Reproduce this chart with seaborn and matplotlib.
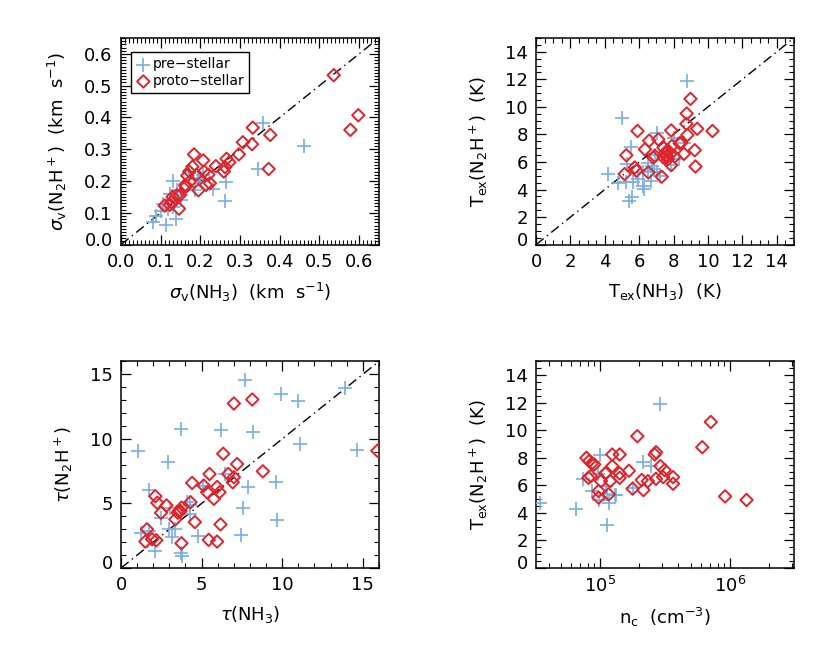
import numpy as np
import pandas as pd
import matplotlib
matplotlib.use('Agg')
import matplotlib.pyplot as plt
import matplotlib.ticker as mticker
import matplotlib.transforms as mtrans
import seaborn as sns

# --- datos ---
# panel 1: dispersion de velocidades (km/s)
sv_nh3_pre = [0.359, 0.462, 0.346, 0.265, 0.261, 0.233, 0.195, 0.186, 0.131, 0.123, 0.136, 0.152,
              0.150, 0.130, 0.106, 0.102, 0.089, 0.081, 0.113, 0.138, 0.199, 0.207, 0.172, 0.119, 0.140]
sv_n2h_pre = [0.383, 0.311, 0.239, 0.198, 0.136, 0.175, 0.206, 0.171, 0.200, 0.158, 0.145, 0.155,
              0.139, 0.118, 0.129, 0.107, 0.091, 0.070, 0.061, 0.080, 0.209, 0.220, 0.225, 0.113, 0.171]
sv_nh3_pro = [0.536, 0.598, 0.578, 0.332, 0.376, 0.330, 0.307, 0.372, 0.297, 0.266, 0.273, 0.262,
              0.259, 0.239, 0.184, 0.207, 0.180, 0.172, 0.167, 0.190, 0.209, 0.220, 0.214, 0.224,
              0.195, 0.173, 0.163, 0.148, 0.141, 0.146, 0.127, 0.123, 0.110, 0.130, 0.162]
sv_n2h_pro = [0.533, 0.407, 0.361, 0.368, 0.345, 0.316, 0.322, 0.238, 0.284, 0.270, 0.259, 0.244,
              0.230, 0.247, 0.284, 0.265, 0.245, 0.230, 0.217, 0.220, 0.230, 0.220, 0.188, 0.193,
              0.171, 0.198, 0.182, 0.155, 0.155, 0.113, 0.134, 0.125, 0.123, 0.150, 0.188]

# panel 2: temperatura de excitacion (K)
tex_nh3_pre = [8.78, 4.99, 4.17, 4.75, 5.25, 5.50, 5.28, 5.38, 5.58, 5.64, 5.93, 6.23, 6.29, 6.53,
               6.72, 6.88, 6.68, 7.01, 6.53, 6.91, 7.05, 8.00, 7.86, 8.29, 8.59, 6.23, 7.21]
tex_n2h_pre = [11.9, 9.18, 5.12, 4.47, 4.52, 7.12, 5.84, 3.17, 3.44, 4.52, 4.76, 4.28, 4.04, 5.36,
               5.72, 5.48, 4.64, 5.24, 5.96, 6.49, 8.13, 7.76, 5.79, 6.20, 7.40, 5.24, 5.00]
tex_nh3_pro = [8.98, 8.76, 8.74, 8.80, 9.37, 10.26, 9.23, 9.27, 8.60, 8.35, 7.86, 7.11, 6.58, 5.90,
               5.25, 5.15, 5.74, 5.84, 6.33, 6.91, 6.82, 6.53, 7.31, 7.41, 7.51, 7.60, 7.70, 7.80,
               7.90, 8.06, 7.86, 7.66, 8.45, 7.41]
tex_n2h_pro = [10.58, 9.52, 8.77, 7.96, 8.41, 8.25, 6.85, 5.67, 6.59, 7.36, 8.29, 7.64, 7.55, 8.25,
               6.49, 5.12, 5.60, 5.36, 6.92, 6.44, 6.32, 5.24, 4.93, 7.04, 6.68, 6.44, 6.80, 6.56,
               7.16, 6.39, 5.77, 6.20, 7.40, 6.32]

# panel 3: profundidad optica
tau_nh3_pre = [7.68, 13.87, 9.94, 10.98, 8.20, 6.21, 3.73, 11.08, 14.66, 1.06, 2.92, 6.44, 7.87,
               9.59, 9.69, 7.58, 7.45, 4.76, 1.76, 2.50, 1.26, 1.76, 2.13, 3.06, 2.96, 3.17, 3.37,
               3.69, 3.79, 4.10, 4.27, 4.31, 5.09]
tau_n2h_pre = [14.59, 13.97, 13.44, 12.95, 10.56, 10.69, 10.77, 9.62, 9.10, 9.08, 8.18, 7.31, 6.26,
               6.67, 3.72, 4.62, 2.54, 2.49, 6.08, 3.90, 2.74, 2.87, 1.28, 4.67, 3.00, 2.44, 3.00,
               1.15, 0.95, 5.10, 4.85, 4.15, 6.33]
tau_nh3_pro = [15.9, 8.14, 7.00, 6.34, 7.20, 8.80, 7.00, 6.93, 6.65, 5.49, 5.13, 5.34, 5.96, 6.11,
               5.76, 4.41, 6.17, 5.44, 5.96, 4.58, 4.31, 3.75, 3.69, 3.52, 3.37, 2.82, 2.48, 2.25,
               2.13, 1.61, 1.51, 1.93, 2.19, 3.75, 3.58]
tau_n2h_pro = [9.08, 13.05, 12.74, 8.85, 8.05, 7.49, 7.03, 6.64, 7.28, 7.28, 6.38, 5.87, 6.28, 5.87,
               5.36, 6.59, 3.38, 2.18, 2.05, 3.56, 5.10, 4.67, 4.41, 4.28, 3.77, 4.85, 4.28, 5.05,
               5.56, 3.00, 2.05, 2.23, 2.15, 1.92, 4.41]

# panel 4: densidad (log10 cm^-3) vs Tex(N2H+)
lognc_pre = [4.539, 4.814, 4.866, 4.935, 4.979, 4.997, 4.987, 5.045, 5.050, 5.065, 5.052, 5.110,
             5.123, 5.254, 5.332, 5.393, 5.463]
tex4_pre = [4.70, 4.31, 6.43, 5.59, 6.80, 8.17, 4.94, 5.95, 5.35, 4.75, 3.13, 5.30, 5.30, 5.78,
            7.69, 7.40, 11.93]
lognc_pro = [4.893, 4.914, 4.935, 4.953, 4.908, 4.927, 4.987, 4.987, 5.005, 5.039, 5.045, 5.076,
             5.065, 5.092, 5.092, 5.149, 5.149, 5.149, 5.220, 5.249, 5.285, 5.319, 5.332, 5.366,
             5.419, 5.429, 5.429, 5.463, 5.484, 5.495, 5.560, 5.560, 5.785, 5.851, 5.961, 6.126]
tex4_pro = [8.00, 7.76, 7.59, 7.52, 6.55, 6.67, 5.59, 5.11, 6.31, 6.87, 6.92, 6.31, 5.35, 8.24,
            7.40, 8.24, 6.87, 6.55, 7.06, 5.76, 9.57, 6.39, 5.66, 6.31, 8.24, 8.41, 6.48, 7.40,
            6.60, 7.11, 6.60, 6.12, 8.77, 10.60, 5.20, 4.94]

azul = '#78aee0'
rojo = '#e0242c'

sns.set_style('ticks')
plt.rcParams['font.family'] = ['DejaVu Sans']
plt.rcParams['mathtext.fontset'] = 'dejavusans'
plt.rcParams['font.size'] = 13
plt.rcParams['text.color'] = 'black'
plt.rcParams['axes.labelcolor'] = 'black'
plt.rcParams['xtick.color'] = 'black'
plt.rcParams['ytick.color'] = 'black'

fig, axs = plt.subplots(2, 2, figsize=(8.3, 6.46), dpi=100)
fig.subplots_adjust(left=0.1458, right=0.9566, bottom=0.1207, top=0.9412,
                    wspace=0.609, hspace=0.565)


def dibujar(ax, xpre, ypre, xpro, ypro, logx=False):
    df_pre = pd.DataFrame({'x': xpre, 'y': ypre})
    df_pro = pd.DataFrame({'x': xpro, 'y': ypro})
    if logx:
        df_pre['x'] = 10 ** df_pre['x']
        df_pro['x'] = 10 ** df_pro['x']
    sns.scatterplot(data=df_pre, x='x', y='y', ax=ax, marker='+', color=azul,
                    s=110, linewidth=1.2, label='pre\u2212stellar', zorder=3)
    sns.scatterplot(data=df_pro, x='x', y='y', ax=ax, marker='D', facecolor='none',
                    edgecolor=rojo, s=40, linewidth=1.4, label='proto\u2212stellar', zorder=3)


def estilo(ax, xmaj, xmin, ymaj, ymin):
    ax.xaxis.set_major_locator(mticker.MultipleLocator(xmaj))
    ax.xaxis.set_minor_locator(mticker.MultipleLocator(xmin))
    ax.yaxis.set_major_locator(mticker.MultipleLocator(ymaj))
    ax.yaxis.set_minor_locator(mticker.MultipleLocator(ymin))


# panel 1
ax = axs[0, 0]
dibujar(ax, sv_nh3_pre, sv_n2h_pre, sv_nh3_pro, sv_n2h_pro)
ax.plot([0, 0.65], [0, 0.65], color='black', lw=1, ls=(0, (7, 3, 1, 3)), zorder=2)
ax.set_xlim(0, 0.65)
ax.set_ylim(0, 0.65)
estilo(ax, 0.1, 0.01, 0.1, 0.01)
ax.xaxis.set_major_formatter(mticker.FormatStrFormatter('%.1f'))
ax.yaxis.set_major_formatter(mticker.FormatStrFormatter('%.1f'))
ax.set_xlabel(r'$\sigma_{\rm v}$(NH$_3$)  (km  s$^{-1}$)')
ax.set_ylabel(r'$\sigma_{\rm v}$(N$_2$H$^+$)  (km  s$^{-1}$)')
leg = ax.legend(loc='upper left', bbox_to_anchor=(0.038, 0.93), fontsize=10,
                frameon=True, fancybox=False, edgecolor='black', framealpha=1,
                handletextpad=0.1, handlelength=1.1, borderpad=0.35, labelspacing=0.2,
                borderaxespad=0)
leg.get_frame().set_linewidth(1.0)

# panel 2
ax = axs[0, 1]
dibujar(ax, tex_nh3_pre, tex_n2h_pre, tex_nh3_pro, tex_n2h_pro)
ax.plot([0, 15], [0, 15], color='black', lw=1, ls=(0, (7, 3, 1, 3)), zorder=2)
ax.set_xlim(0, 15)
ax.set_ylim(0, 15)
estilo(ax, 2, 0.5, 2, 0.5)
ax.set_xlabel(r'T$_{\rm ex}$(NH$_3$)  (K)')
ax.set_ylabel(r'T$_{\rm ex}$(N$_2$H$^+$)  (K)')
ax.get_legend().remove()

# panel 3
ax = axs[1, 0]
dibujar(ax, tau_nh3_pre, tau_n2h_pre, tau_nh3_pro, tau_n2h_pro)
ax.plot([0, 16], [0, 16], color='black', lw=1, ls=(0, (7, 3, 1, 3)), zorder=2)
ax.set_xlim(0, 16)
ax.set_ylim(0, 16)
estilo(ax, 5, 1, 5, 1)
ax.set_xlabel(r'$\tau$(NH$_3$)')
ax.set_ylabel(r'$\tau$(N$_2$H$^+$)')
ax.get_legend().remove()

# panel 4
ax = axs[1, 1]
dibujar(ax, lognc_pre, tex4_pre, lognc_pro, tex4_pro, logx=True)
ax.set_xscale('log')
ax.set_xlim(3.2e4, 3.1e6)
ax.set_ylim(0, 15)
ax.yaxis.set_major_locator(mticker.MultipleLocator(2))
ax.yaxis.set_minor_locator(mticker.MultipleLocator(0.5))
ax.xaxis.set_major_locator(mticker.LogLocator(base=10, numticks=10))
ax.xaxis.set_minor_locator(mticker.LogLocator(base=10, subs=np.arange(2, 10), numticks=10))
ax.xaxis.set_minor_formatter(mticker.NullFormatter())
ax.set_xlabel(r'n$_{\rm c}$  (cm$^{-3}$)')
ax.set_ylabel(r'T$_{\rm ex}$(N$_2$H$^+$)  (K)')
ax.get_legend().remove()

for ax in axs.flat:
    ax.tick_params(which='both', direction='in', top=True, right=True, colors='black',
                   labelsize=13, pad=6)
    ax.tick_params(which='major', length=7, width=0.9)
    ax.tick_params(which='minor', length=3.5, width=0.8)
    for sp in ax.spines.values():
        sp.set_linewidth(1.1)
        sp.set_color('black')
    ax.xaxis.label.set_size(13)
    ax.yaxis.label.set_size(13)
    ax.xaxis.labelpad = 7
    ax.yaxis.labelpad = 11

# la etiqueta "0" del eje y va un poco mas arriba, como en el original
fig.canvas.draw()
subir = mtrans.ScaledTranslation(0, 6 / 100, fig.dpi_scale_trans)
for ax in axs.flat:
    for t in ax.yaxis.get_major_ticks():
        if abs(t.get_loc()) < 1e-9:
            t.label1.set_transform(t.label1.get_transform() + subir)

fig.savefig('out.png', dpi=100)
